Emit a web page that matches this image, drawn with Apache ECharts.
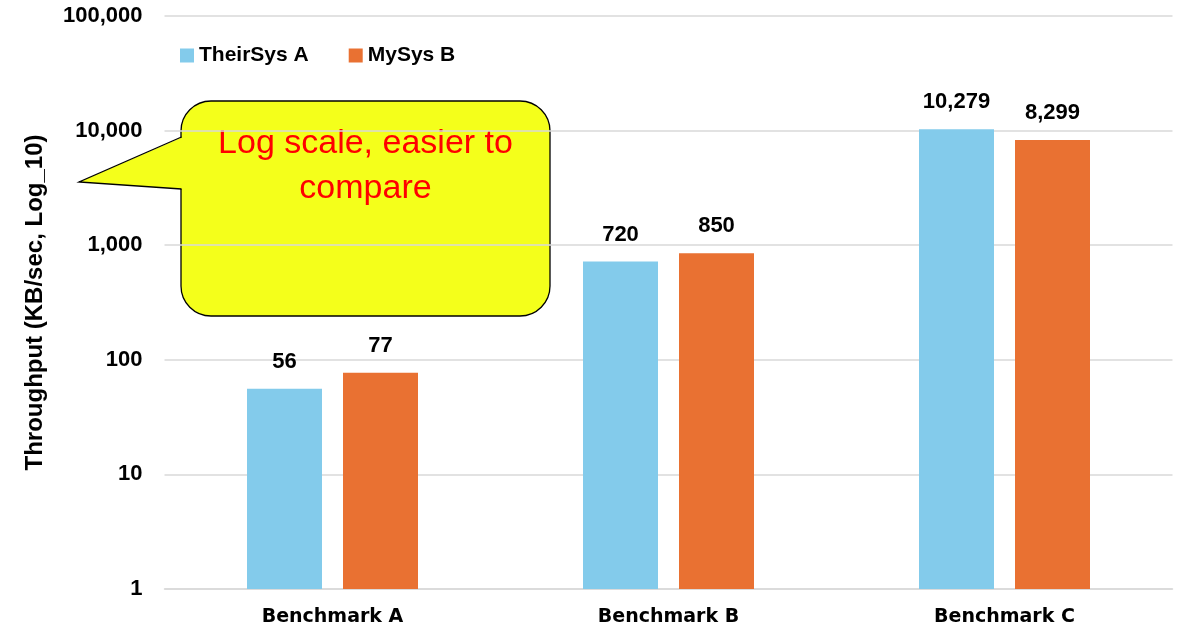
<!DOCTYPE html>
<html>
<head>
<meta charset="utf-8">
<script src="https://cdn.jsdelivr.net/npm/echarts@6/dist/echarts.min.js"></script>
<style>
  html, body { margin: 0; padding: 0; background: #fff; }
  #chart { width: 1189px; height: 630px; }
</style>
</head>
<body>
<div id="chart"></div>
<script>
// Benchmarks and measured throughput (KB/sec)
const categories = ['Benchmark A', 'Benchmark B', 'Benchmark C'];
const seriesNames = ['TheirSys A', 'MySys B'];
const theirSysA = [56, 720, 10279];
const mySysB = [77, 850, 8299];
const yAxisTitle = 'Throughput (KB/sec, Log_10)';
const calloutText = 'Log scale, easier to\ncompare';

const BLUE = '#83CBEB';
const ORANGE = '#E97132';
const GRID = '#D9D9D9';
const YELLOW = '#F4FF1B';

const fmt = v => Math.round(v).toLocaleString('en-US');

const chart = echarts.init(document.getElementById('chart'), null, { renderer: 'canvas' });

const labelStyle = {
  show: true,
  position: 'top',
  distance: 16,
  color: '#000',
  fontFamily: 'Liberation Sans',
  fontWeight: 'bold',
  fontSize: 22,
  formatter: p => fmt(p.value)
};

chart.setOption({
  backgroundColor: '#fff',
  animation: false,
  grid: { left: 164.5, right: 16.5, top: 16, bottom: 41, containLabel: false },
  legend: {
    left: 175,
    top: 40,
    itemWidth: 14,
    itemHeight: 14,
    itemGap: 40,
    icon: 'rect',
    textStyle: {
      color: '#000',
      fontFamily: 'Liberation Sans',
      fontWeight: 'bold',
      fontSize: 21
    },
    data: seriesNames
  },
  xAxis: {
    type: 'category',
    data: categories,
    axisTick: { show: false },
    axisLine: { lineStyle: { color: GRID, width: 1.5 } },
    axisLabel: {
      margin: 19,
      color: '#000',
      fontFamily: 'DejaVu Sans',
      fontWeight: 'bold',
      fontSize: 19
    }
  },
  yAxis: {
    type: 'log',
    logBase: 10,
    min: 1,
    max: 100000,
    name: yAxisTitle,
    nameLocation: 'middle',
    nameGap: 117,
    nameRotate: 90,
    nameTextStyle: {
      color: '#000',
      fontFamily: 'Liberation Sans',
      fontWeight: 'bold',
      fontSize: 24
    },
    axisLine: { show: false },
    axisTick: { show: false },
    splitLine: { lineStyle: { color: GRID, width: 1.5 } },
    axisLabel: {
      margin: 22,
      color: '#000',
      fontFamily: 'Liberation Sans',
      fontWeight: 'bold',
      fontSize: 22,
      formatter: v => fmt(v)
    }
  },
  series: [
    {
      name: seriesNames[0],
      type: 'bar',
      data: theirSysA,
      barWidth: 75,
      barGap: '28%',
      itemStyle: { color: BLUE },
      label: labelStyle
    },
    {
      name: seriesNames[1],
      type: 'bar',
      data: mySysB,
      barWidth: 75,
      barGap: '28%',
      itemStyle: { color: ORANGE },
      label: labelStyle
    }
  ],
  graphic: [
    {
      type: 'group',
      z: 100,
      children: [
        // speech-bubble body
        {
          type: 'rect',
          shape: { x: 181, y: 101, width: 369, height: 215, r: 30 },
          style: { fill: YELLOW, stroke: '#000', lineWidth: 1.3 }
        },
        // pointer fill, overlapping the body's left edge to hide the seam
        {
          type: 'polygon',
          shape: { points: [[183, 137], [79, 182], [183, 189]] },
          style: { fill: YELLOW, stroke: null }
        },
        // pointer outline
        {
          type: 'polyline',
          shape: { points: [[181.5, 137], [79, 182], [181.5, 189]] },
          style: { fill: null, stroke: '#000', lineWidth: 1.3 }
        },
        {
          type: 'text',
          style: {
            text: calloutText,
            x: 365.5,
            y: 166,
            align: 'center',
            verticalAlign: 'middle',
            fill: '#FF0000',
            fontFamily: 'Liberation Sans',
            fontSize: 34,
            lineHeight: 45
          }
        }
      ]
    }
  ]
});
</script>
</body>
</html>
